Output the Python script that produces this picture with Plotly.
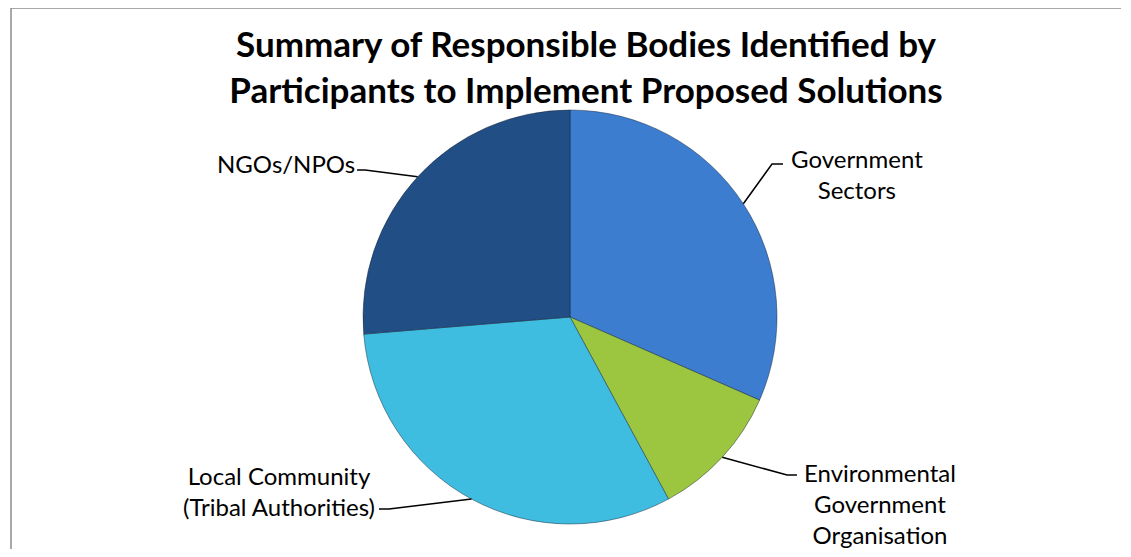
import math
import plotly.graph_objects as go

# the page body adds an 8px margin all round; keep the figure inside the window
OFF = 8
W, H = 1131 - 2 * OFF, 557 - 2 * OFF

bodies = ['Government Sectors', 'Environmental Government Organisation',
          'Local Community (Tribal Authorities)', 'NGOs/NPOs']
label_text = ['Government<br>Sectors', 'Environmental<br>Government<br>Organisation',
              'Local Community<br>(Tribal Authorities)', 'NGOs/NPOs']
counts = [12, 4, 12, 10]
colors = ['#3c7dcf', '#9cc63f', '#3ebde0', '#214f85']

# pie placement in window pixels
cx, cy, r = 570, 317, 207

# label text centre and elbow of leader line (window pixels)
label_pos = [(857, 174), (880, 503), (279, 491), (286, 163)]
elbows = [[(783, 164), (772, 164)], [(797, 475), (787, 475)],
          [(379, 509), (389, 509)], [(357, 170), (365, 170)]]


def px(x, y):
    return (x - OFF) / W, 1 - (y - OFF) / H


x0, y0 = px(cx - r, cy + r)
x1, y1 = px(cx + r, cy - r)
fig = go.Figure(go.Pie(
    labels=bodies, values=counts, sort=False, direction='clockwise',
    rotation=0, textinfo='none', hoverinfo='label+value+percent',
    marker=dict(colors=colors, line=dict(color='rgba(20,30,50,0.45)', width=1)),
    domain=dict(x=[x0, x1], y=[y0, y1]),
    showlegend=False,
))

total = sum(counts)
cum = 0
shapes = []
annotations = []
for i, v in enumerate(counts):
    mid = (cum + v / 2) / total * 2 * math.pi
    cum += v
    ex, ey = cx + r * math.sin(mid), cy - r * math.cos(mid)
    pts = elbows[i] + [(ex, ey)]
    path = 'M ' + ' L '.join('{:.4f},{:.4f}'.format(*px(x, y)) for x, y in pts)
    shapes.append(dict(type='path', path=path, xref='paper', yref='paper',
                       line=dict(color='black', width=1.5)))
    lx, ly = px(*label_pos[i])
    annotations.append(dict(x=lx, y=ly, xref='paper', yref='paper',
                            text=label_text[i], showarrow=False,
                            xanchor='center', yanchor='middle', align='center',
                            font=dict(family='Lato', size=24, color='black')))

# chart frame: only the left and top edges are visible in the picture
fx0, fy = px(11, 8)
fx1, _ = px(1121, 8)
frame = 'M {:.4f},-0.05 L {:.4f},{:.4f} L {:.4f},{:.4f}'.format(fx0, fx0, fy, fx1, fy)
shapes.append(dict(type='path', path=frame, xref='paper', yref='paper',
                   line=dict(color='#8c8c8c', width=1.5)))

tx, ty = px(586, 57)
fig.update_layout(
    width=W, height=H,
    margin=dict(l=0, r=0, t=0, b=0),
    paper_bgcolor='white', plot_bgcolor='white',
    title=dict(text='<b>Summary of Responsible Bodies Identified by<br>'
                    'Participants to Implement Proposed Solutions</b>',
               x=tx, xanchor='center', y=ty, yanchor='middle',
               font=dict(family='Lato', size=35, color='black')),
    shapes=shapes, annotations=annotations,
)

fig.write_html('out.html')
